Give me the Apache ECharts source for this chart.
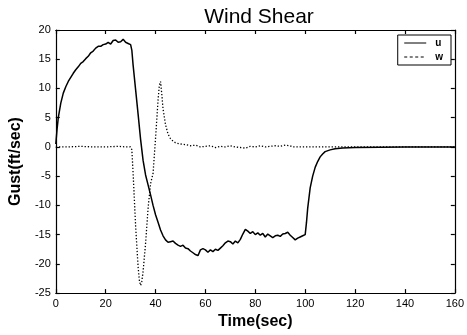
<!DOCTYPE html>
<html>
<head>
<meta charset="utf-8">
<script src="https://cdn.jsdelivr.net/npm/echarts@6/dist/echarts.min.js"></script>
<style>
  html, body { margin: 0; padding: 0; background: #fff; }
  #main { width: 467px; height: 335px; }
</style>
</head>
<body>
<div id="main"></div>
<script>
// [time (sec), gust (ft/sec)]
const uPoints = [
  [0, 0.5], [0.5, 3], [1, 5], [2, 7.5], [3, 9.2], [4, 10.3], [5, 11.2], [6, 11.9],
  [7, 12.6], [8, 13.2], [9, 13.7], [10, 14.3], [11, 14.6], [12, 15.1], [13, 15.5],
  [14, 16.1], [15, 16.4], [16, 16.9], [17, 17.2], [18, 17.2], [19, 17.5], [20, 17.6],
  [21, 17.9], [22, 17.6], [23, 18.2], [24, 18.3], [25, 17.9], [26, 18], [27, 18.4],
  [28, 17.9], [29, 17.7], [30, 17.5], [30.5, 16.5], [31, 14], [32, 9.8], [33, 5.6],
  [34, 1.3], [35, -2.3], [36, -4.8], [37, -6.5], [38, -8.2], [39, -10], [40, -11.6],
  [41, -12.9], [42, -14.2], [43, -15.2], [44, -15.9], [45, -16.3], [46, -16.2],
  [47, -16.1], [48, -16.5], [49, -16.8], [50, -17], [51, -16.8], [52, -17.3],
  [53, -17.4], [54, -17.8], [55, -18.1], [56, -18.4], [57, -18.6], [58, -17.6],
  [59, -17.4], [60, -17.6], [61, -18], [62, -17.6], [63, -17.9], [64, -17.5],
  [65, -17.7], [66, -17.3], [67, -16.9], [68, -16.4], [69, -16.1], [70, -16.2],
  [71, -16.6], [72, -16.1], [73, -16.4], [74, -15.8], [75, -14.9], [76, -14.1],
  [77, -14.4], [78, -14.8], [79, -14.5], [80, -15], [81, -14.7], [82, -15.1],
  [83, -14.8], [84, -15.4], [85, -14.9], [86, -15.2], [87, -15.5], [88, -15.2],
  [89, -15.1], [90, -15.3], [91, -14.9], [92, -14.8], [93, -14.6], [94, -15.1],
  [95, -15.5], [96, -15.9], [97, -15.6], [98, -15.4], [99, -15.2], [100, -15],
  [100.5, -13], [101, -10.5], [102, -7], [103, -5], [104, -3.5], [105, -2.5],
  [106, -1.7], [107, -1.2], [108, -0.8], [110, -0.5], [112, -0.3], [115, -0.2],
  [120, -0.1], [130, -0.05], [140, 0], [160, 0]
];
const wPoints = [
  [0, 0], [5, 0], [10, 0.1], [15, 0], [20, 0], [25, 0.1], [28, 0], [30, 0],
  [30.5, -0.5], [31, -4.5], [32, -13.5], [33, -20.5], [33.5, -22.8], [34, -23.7],
  [34.5, -23], [35, -21.3], [36, -16.5], [37, -10.5], [38, -6.3], [39, -4.5],
  [40, 1.5], [41, 8], [41.5, 10.5], [42, 11.2], [42.5, 9], [43, 6.5], [44, 3.8],
  [45, 2.2], [46, 1.4], [47, 1], [48, 0.7], [50, 0.5], [52, 0.4], [54, 0.2],
  [56, 0.3], [58, 0], [60, 0.1], [62, 0.2], [64, -0.1], [66, 0.1], [68, 0],
  [70, 0.2], [72, 0], [74, -0.1], [76, -0.2], [78, 0.1], [80, 0], [82, 0.2],
  [84, 0], [86, 0.1], [88, 0.2], [90, 0.1], [92, 0.3], [94, 0.2], [95, 0],
  [100, 0], [160, 0]
];
const seriesNames = ["u", "w"];

const font = "Liberation Sans, Arial, sans-serif";
const chart = echarts.init(document.getElementById("main"));

const tickAxis = {
  axisLine: { show: true, onZero: false, lineStyle: { color: "#000", width: 1.2 } },
  axisTick: { show: true, inside: true, length: 4, lineStyle: { color: "#000", width: 1.2 } },
  splitLine: { show: false }
};

let option = {
  animation: false,
  backgroundColor: "#fff",
  title: {
    text: "Wind Shear",
    left: 254,
    textAlign: "center",
    top: 2,
    textStyle: { fontFamily: font, fontSize: 21, fontWeight: "normal", color: "#000" }
  },
  legend: {
    show: true,
    right: 16,
    top: 35,
    orient: "vertical",
    itemGap: 4,
    itemWidth: 22,
    itemHeight: 10,
    padding: [3, 8, 3, 6],
    borderColor: "#000",
    borderWidth: 1,
    borderRadius: 0,
    backgroundColor: "#fff",
    itemStyle: { opacity: 0 },
    textStyle: { fontFamily: font, fontSize: 10, fontWeight: "bold", color: "#000", padding: [0, 0, 0, 4] },
    data: [
      { name: seriesNames[0], lineStyle: { width: 1 } },
      { name: seriesNames[1], lineStyle: { width: 1, type: [3, 2.5] } }
    ]
  },
  grid: { left: 54, right: 9, top: 30, bottom: 40 },
  xAxis: [
    Object.assign({
      type: "value", min: 0, max: 160, interval: 20, position: "bottom",
      name: "Time(sec)", nameLocation: "middle", nameGap: 17,
      nameTextStyle: { fontFamily: font, fontSize: 16, fontWeight: "bold", color: "#000" },
      axisLabel: { color: "#000", fontFamily: font, fontSize: 11, margin: 5 }
    }, tickAxis),
    Object.assign({
      type: "value", min: 0, max: 160, interval: 20, position: "top",
      axisLabel: { show: false }
    }, tickAxis)
  ],
  yAxis: [
    Object.assign({
      type: "value", min: -25, max: 20, interval: 5, position: "left",
      name: "Gust(ft/sec)", nameLocation: "middle", nameGap: 27,
      nameTextStyle: { fontFamily: font, fontSize: 16, fontWeight: "bold", color: "#000" },
      axisLabel: { color: "#000", fontFamily: font, fontSize: 11, margin: 5 }
    }, tickAxis),
    Object.assign({
      type: "value", min: -25, max: 20, interval: 5, position: "right",
      axisLabel: { show: false }
    }, tickAxis)
  ],
  series: [
    {
      name: seriesNames[0],
      type: "line",
      data: uPoints,
      showSymbol: false,
      symbol: "none",
      color: "#000",
      lineStyle: { color: "#000", width: 1.5 }
    },
    {
      name: seriesNames[1],
      type: "line",
      data: wPoints,
      showSymbol: false,
      symbol: "none",
      color: "#000",
      lineStyle: { color: "#000", width: 1.3, type: [1.3, 1.9] }
    }
  ]
};
chart.setOption(option);
</script>
</body>
</html>
